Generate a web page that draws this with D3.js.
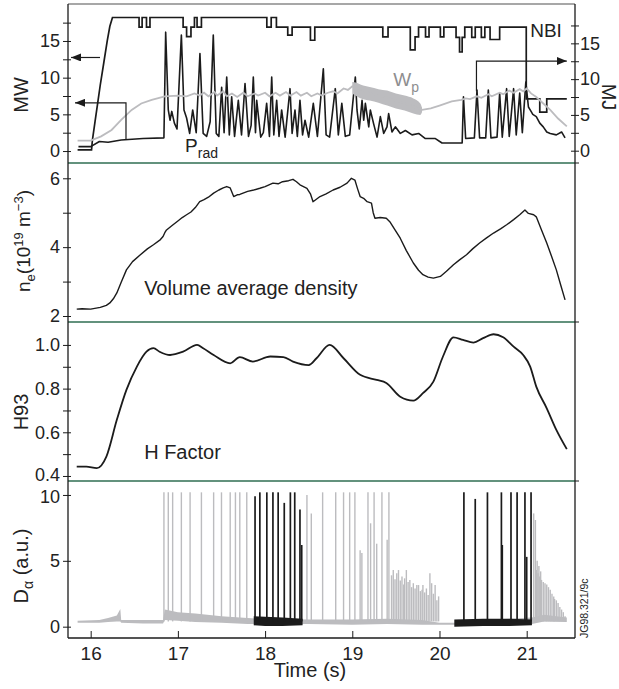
<!DOCTYPE html>
<html><head><meta charset="utf-8">
<script src="https://cdn.jsdelivr.net/npm/d3@7"></script>
<style>
body{margin:0;background:#fff}
svg{display:block}
text{font-family:"Liberation Sans",Arial,Helvetica,sans-serif;fill:#222}
</style>
</head><body>
<svg id="c" width="619" height="689"></svg>
<script>
// ---------------- DATA ----------------
const timeTicks = [16, 17, 18, 19, 20, 21];
const mwTicks = [0, 5, 10, 15], mwMinor = [2.5, 7.5, 12.5, 17.5];
const mjTicks = [0, 5, 10, 15], mjMinor = [2.5, 7.5, 12.5, 17.5];
const neTicks = [2, 4, 6], neMinor = [3, 5];
const hTicks = [0.4, 0.6, 0.8, 1.0], hMinor = [0.5, 0.7, 0.9];
const daTicks = [0, 5, 10];

// NBI power (MW), steps given as point pairs
const nbi = [[15.85,0.15],[16.01,0.15],[16.02,1.5],[16.05,4],[16.08,6.5],[16.11,9],[16.15,12],[16.19,15],[16.22,17],[16.25,18.2],
 [16.555,18.2],[16.555,16.9],[16.59,16.9],[16.59,18.2],[16.64,18.2],[16.64,16.9],[16.68,16.9],[16.68,18.2],
 [17.06,18.2],[17.06,16.9],[17.10,16.9],[17.10,15.6],[17.15,15.6],[17.15,16.9],[17.19,16.9],[17.19,18.2],[17.22,18.2],[17.22,16.9],[17.27,16.9],[17.27,18.2],
 [18.02,18.2],[18.02,16.9],[18.07,16.9],[18.07,18.2],[18.13,18.2],[18.13,16.9],[18.26,16.9],[18.26,15.8],[18.31,15.8],[18.31,16.9],
 [18.52,16.9],[18.52,15.1],[18.57,15.1],[18.57,16.9],
 [19.35,16.9],[19.35,15.55],[19.41,15.55],[19.41,16.9],
 [19.665,16.9],[19.665,13.8],[19.72,13.8],[19.72,15.55],[19.76,15.55],[19.76,16.9],
 [19.84,16.9],[19.84,15.55],[19.88,15.55],[19.88,16.9],
 [20.01,16.9],[20.01,15.55],[20.05,15.55],[20.05,16.9],
 [20.19,16.9],[20.19,15.5],[20.23,15.5],[20.23,13.5],[20.26,13.5],[20.26,15.5],[20.29,15.5],[20.29,16.9],
 [20.37,16.9],[20.37,15.5],[20.41,15.5],[20.41,16.9],[20.48,16.9],[20.48,15.5],[20.52,15.5],[20.52,16.9],
 [20.58,16.9],[20.58,15.2],[20.69,15.2],[20.69,16.9],[20.995,16.9],[20.995,7.1],[21.15,7.1],[21.15,5.3],[21.23,5.3],[21.23,7.1],[21.46,7.1]];

// Radiated power P_rad (MW)
const prad = [[15.86,0.6],[16.0,0.6],[16.10,1.3],[16.20,1.2],[16.35,1.5],[16.60,1.7],[16.84,1.8],
 [16.86,16.2],[16.89,5.6],[16.91,4.2],[16.93,5.4],[16.96,3.8],[16.99,3.0],[17.04,15.8],[17.07,5.6],[17.10,4.5],[17.135,2.4],[17.17,5.6],[17.21,2.5],
 [17.253,13.3],[17.29,2.4],[17.33,2.0],[17.37,4.0],[17.406,15.8],[17.44,2.4],[17.47,2.0],[17.502,8.7],[17.53,2.5],[17.56,10.1],[17.59,2.2],
 [17.617,7.4],[17.65,2.0],[17.693,6.9],[17.73,2.2],[17.77,9.2],[17.81,2.0],[17.84,3.5],[17.865,10.1],[17.89,2.5],[17.904,6.9],[17.95,1.9],
 [17.98,2.5],[18.018,6.5],[18.05,2.0],[18.076,10.1],[18.10,2.2],[18.133,6.9],[18.16,2.0],[18.19,5.6],[18.23,1.9],[18.286,8.5],[18.31,2.4],
 [18.343,5.6],[18.37,2.0],[18.40,6.9],[18.43,2.2],[18.458,4.2],[18.50,1.9],[18.553,6.5],[18.60,2.0],[18.668,11.2],[18.70,2.2],[18.74,1.9],
 [18.805,8.5],[18.84,2.2],[18.88,6.5],[18.92,2.0],[18.97,2.2],[19.035,10.1],[19.054,5.6],[19.08,3.0],[19.112,6.9],[19.131,4.2],[19.15,6.5],
 [19.189,3.3],[19.207,5.6],[19.245,3.7],[19.284,1.9],[19.322,4.7],[19.36,2.4],[19.398,3.3],[19.417,5.1],[19.455,2.6],[19.494,3.3],
 [19.551,2.4],[19.609,2.8],[19.685,2.2],[19.761,2.4],[19.838,1.7],[19.953,1.7],[20.029,1.1],[20.144,1.1],[20.26,1.1],
 [20.275,7.4],[20.30,1.7],[20.40,1.8],[20.43,8.3],[20.46,1.8],[20.53,1.8],[20.56,8.3],[20.59,1.8],[20.66,1.9],[20.69,7.9],[20.72,1.9],
 [20.77,8.5],[20.80,2.0],[20.85,8.5],[20.88,2.2],[20.92,7.9],[20.95,2.5],[20.99,9.4],[21.02,6.0],[21.04,5.6],[21.07,5.0],[21.11,4.7],
 [21.15,3.8],[21.19,3.3],[21.23,2.6],[21.27,2.4],[21.34,2.2],[21.40,2.6],[21.44,1.8]];

// Stored energy W_p (MJ)
const wp = [[15.85,1.4],[16.0,1.4],[16.12,2.0],[16.24,2.9],[16.35,4.3],[16.47,5.7],[16.58,6.6],[16.70,7.1],[16.85,7.6],[17.0,7.7],[17.1,7.6],[17.19,8.0],
 [17.25,7.7],[17.3,8.1],[17.35,7.6],[17.42,8.2],[17.45,7.7],[17.52,8.3],[17.56,7.6],[17.62,8.0],[17.68,7.5],[17.75,8.1],[17.8,7.6],[17.88,8.0],
 [17.92,7.7],[18.0,8.1],[18.05,7.6],[18.12,8.1],[18.17,7.7],[18.24,8.2],[18.29,7.7],[18.36,8.2],[18.41,7.7],[18.48,8.1],[18.53,7.6],[18.6,8.0],
 [18.65,7.7],[18.72,8.1],[18.78,8.3],[18.83,8.0],[18.9,8.7],[18.95,8.5],[19.0,9.0],[19.2,8.0],[19.4,7.4],[19.6,6.6],[19.8,5.7],[19.9,5.9],
 [20.0,6.3],[20.14,6.9],[20.25,7.1],[20.3,7.3],[20.35,7.2],[20.43,7.6],[20.48,7.4],[20.56,7.9],[20.6,7.6],[20.69,8.1],[20.73,7.9],[20.8,8.4],
 [20.85,8.1],[20.92,8.6],[20.96,8.3],[21.0,8.7],[21.05,8.0],[21.11,7.5],[21.19,6.6],[21.27,5.7],[21.36,4.5],[21.46,3.4]];
// noisy W_p band 19.0-19.8 s: [t, low, high] (MJ)
const wpBand = [[19.0,8.0,9.6],[19.05,7.6,9.5],[19.1,7.3,9.2],[19.2,7.0,8.9],[19.3,6.7,8.6],[19.4,6.3,8.4],[19.5,5.9,8.0],[19.6,5.6,7.7],[19.7,5.2,7.3],[19.78,5.0,6.6],[19.8,5.4,6.0]];

// Volume average density (1e19 m^-3)
const ne = [[15.84,2.20],[15.9,2.21],[16.0,2.20],[16.11,2.25],[16.18,2.31],[16.22,2.38],[16.26,2.5],[16.30,2.67],[16.35,2.98],[16.41,3.34],
 [16.48,3.58],[16.57,3.78],[16.65,3.95],[16.72,4.07],[16.8,4.22],[16.83,4.31],[16.85,4.42],[16.87,4.50],[16.93,4.62],[17.0,4.76],[17.05,4.86],
 [17.10,4.94],[17.15,5.02],[17.2,5.15],[17.25,5.32],[17.3,5.38],[17.35,5.45],[17.41,5.57],[17.47,5.66],[17.52,5.72],[17.56,5.76],[17.6,5.72],
 [17.64,5.47],[17.68,5.52],[17.71,5.53],[17.8,5.62],[17.87,5.66],[17.94,5.71],[18.0,5.76],[18.09,5.86],[18.15,5.84],[18.2,5.9],[18.27,5.93],
 [18.32,5.97],[18.36,5.90],[18.40,5.81],[18.44,5.76],[18.48,5.71],[18.52,5.55],[18.55,5.32],[18.63,5.47],[18.7,5.55],[18.78,5.66],[18.86,5.74],
 [18.94,5.86],[18.99,6.0],[19.03,5.95],[19.06,5.7],[19.09,5.47],[19.13,5.42],[19.17,5.32],[19.22,5.28],[19.24,5.0],[19.26,4.84],[19.32,4.86],
 [19.39,4.84],[19.43,4.74],[19.49,4.5],[19.55,4.26],[19.62,3.9],[19.70,3.54],[19.76,3.33],[19.81,3.20],[19.87,3.13],[19.93,3.10],[20.01,3.15],
 [20.08,3.3],[20.16,3.49],[20.23,3.63],[20.31,3.78],[20.38,3.95],[20.46,4.12],[20.54,4.27],[20.62,4.41],[20.70,4.53],[20.77,4.65],[20.85,4.8],
 [20.92,4.94],[20.98,5.08],[21.02,4.98],[21.08,4.94],[21.11,4.88],[21.17,4.5],[21.23,4.12],[21.29,3.7],[21.34,3.34],[21.39,2.9],[21.44,2.47]];

// H93 confinement factor
const h93 = [[15.84,0.443],[15.95,0.443],[16.07,0.436],[16.18,0.489],[16.30,0.657],[16.41,0.794],[16.53,0.901],[16.64,0.969],[16.72,0.985],
 [16.79,0.969],[16.91,0.954],[17.06,0.969],[17.22,1.0],[17.29,0.985],[17.41,0.954],[17.60,0.916],[17.71,0.944],[17.86,0.924],[18.06,0.947],
 [18.21,0.944],[18.32,0.924],[18.50,0.908],[18.59,0.939],[18.74,1.0],[18.90,0.939],[19.09,0.863],[19.28,0.840],[19.39,0.826],[19.55,0.763],
 [19.70,0.745],[19.81,0.779],[19.93,0.832],[20.04,0.947],[20.16,1.035],[20.27,1.023],[20.39,1.011],[20.50,1.031],[20.62,1.049],[20.73,1.035],
 [20.85,0.992],[20.96,0.954],[21.04,0.901],[21.11,0.809],[21.23,0.710],[21.34,0.611],[21.46,0.523]];

// D-alpha: baseline bands [t, low, high] and ELM spikes [t, peak]
const daGrayBase = [[15.85,0.3,0.45],[16.1,0.3,0.5],[16.2,0.35,0.65],[16.3,0.4,0.85],[16.34,0.4,1.35],[16.35,0.3,0.5],[16.6,0.25,0.5],
 [16.83,0.25,0.5],[16.85,0.5,1.3],[17.0,0.45,1.1],[17.2,0.35,1.0],[17.5,0.3,0.8],[17.8,0.2,0.65],[18.0,0.2,0.6],[18.5,0.2,0.55],
 [19.0,0.15,0.55],[19.4,0.2,0.6],[19.8,0.15,0.5],[20.0,0.15,0.3],[20.17,0.15,0.3],[20.5,0.1,0.5],[21.06,0.2,0.7],[21.2,0.4,0.9],[21.46,0.35,0.7]];
const daBlackBase1 = [[17.87,0.1,0.8],[18.0,0.05,0.75],[18.2,0.05,0.7],[18.43,0.1,0.6]];
const daBlackBase2 = [[20.17,0.0,0.55],[20.5,0.05,0.6],[20.8,0.05,0.6],[21.06,0.1,0.55]];
const daGraySpikes = [[16.84,10.2],[16.89,10.2],[16.94,10.2],[17.04,10.2],[17.14,10.2],[17.27,10.2],[17.41,10.2],[17.50,10.2],[17.60,10.2],
 [17.66,10.2],[17.71,10.2],[17.79,10.2],[18.48,10.0],[18.53,8.6],[18.66,10.2],[18.81,10.2],[18.90,10.2],[18.97,10.2],[19.03,10.2],
 [19.09,5.8],[19.11,5.6],[19.18,10.2],[19.21,7.85],[19.25,10.2],[19.28,6.3],[19.34,10.2],[19.40,6.6],[19.42,10.2],
 [19.45,3.9],[19.47,4.3],[19.49,3.6],[19.51,4.05],[19.53,4.3],[19.55,3.5],[19.57,3.8],[19.59,3.2],[19.60,3.67],[19.62,4.3],[19.64,3.4],
 [19.66,3.55],[19.68,3.0],[19.70,3.3],[19.72,2.9],[19.74,3.16],[19.76,3.16],[19.78,2.7],[19.80,2.8],[19.81,3.16],[19.83,2.6],[19.85,2.9],
 [19.87,2.4],[19.89,4.05],[19.91,3.3],[19.93,2.5],[19.95,3.16],[19.97,2.0],[19.99,2.3],
 [21.08,8.6],[21.10,8.1],[21.11,4.3],[21.12,5.0],[21.13,4.05],[21.14,4.6],[21.15,3.8],[21.16,4.2],[21.17,3.55],[21.19,3.4],[21.21,3.3],
 [21.23,3.2],[21.25,3.0],[21.27,2.8],[21.29,2.5],[21.31,2.3],[21.32,2.1],[21.34,2.0],[21.36,1.8],[21.38,1.5],[21.40,1.3],[21.42,1.1],[21.44,0.8]];
const daBlackSpikes = [[17.885,9.9],[17.94,10.2],[18.02,10.2],[18.09,10.2],[18.15,10.2],[18.22,9.4],[18.29,10.2],[18.34,10.2],[18.40,8.9],[18.42,6.2],
 [20.28,10.2],[20.41,9.7],[20.55,10.2],[20.71,10.2],[20.72,6.2],[20.82,10.2],[20.89,10.2],[20.98,10.2],[21.00,5.3],[21.05,10.2]];

// annotation arrows (data units)
const nbiArrow = [[16.107,12.75],[15.775,12.75]];           // MW
const pradArrow = [[16.405,1.5],[16.405,6.57],[15.82,6.57]]; // MW
const wpArrow = [[20.424,8.3],[20.424,12.53],[21.46,12.53]]; // MJ

// ---------------- CHART ----------------
const svg = d3.select('#c');
const L = 68, R = 575;
const x = d3.scaleLinear().domain([15.74, 21.554]).range([L, R]);
const yMW = d3.scaleLinear().domain([-1.63, 20.04]).range([163, 4]);
const yMJ = d3.scaleLinear().domain([-1.72, 20.5]).range([163, 4]);
const yNe = d3.scaleLinear().domain([1.826, 6.444]).range([322, 163]);
const yH = d3.scaleLinear().domain([0.377, 1.105]).range([481, 322]);
const yD = d3.scaleLinear().domain([-0.86, 11.06]).range([638, 481]);

const BLACK = '#1b1b1b', GRAY = '#bcbcbf', GREEN = '#2f6e52';

const defs = svg.append('defs');
[[4,163],[163,322],[322,481],[481,638]].forEach((p,i)=>{
  defs.append('clipPath').attr('id','clip'+i).append('rect')
    .attr('x',L).attr('y',p[0]).attr('width',R-L).attr('height',p[1]-p[0]);
});
defs.append('marker').attr('id','arr').attr('viewBox','0 0 10 8').attr('refX',10).attr('refY',4)
  .attr('markerWidth',10).attr('markerHeight',8).attr('markerUnits','userSpaceOnUse').attr('orient','auto')
  .append('path').attr('d','M0,0L10,4L0,8Z').attr('fill',BLACK);

const line = (ys) => d3.line().x(d=>x(d[0])).y(d=>ys(d[1]));
const band = (ys) => d3.area().x(d=>x(d[0])).y0(d=>ys(d[1])).y1(d=>ys(d[2]));

// ---- panel 1 ----
const p1 = svg.append('g').attr('clip-path','url(#clip0)');
p1.append('path').datum(nbi).attr('d',line(yMW)).attr('fill','none').attr('stroke',BLACK).attr('stroke-width',1.7);
p1.append('path').datum(prad).attr('d',line(yMW)).attr('fill','none').attr('stroke',BLACK).attr('stroke-width',1.6).attr('stroke-linejoin','round');
p1.append('path').datum(wpBand).attr('d',band(yMJ).curve(d3.curveMonotoneX)).attr('fill',GRAY);
p1.append('path').datum(wp).attr('d',line(yMJ)).attr('fill','none').attr('stroke',GRAY).attr('stroke-width',1.8);
p1.append('path').datum(nbiArrow).attr('d',line(yMW)).attr('fill','none').attr('stroke',BLACK).attr('stroke-width',1.2).attr('marker-end','url(#arr)');
p1.append('path').datum(pradArrow).attr('d',line(yMW)).attr('fill','none').attr('stroke',BLACK).attr('stroke-width',1.2).attr('marker-end','url(#arr)');
p1.append('path').datum(wpArrow).attr('d',line(yMJ)).attr('fill','none').attr('stroke',BLACK).attr('stroke-width',1.2).attr('marker-end','url(#arr)');

// labels panel 1
svg.append('text').attr('x',x(21.04)).attr('y',yMW(15.5)).attr('font-size',19).text('NBI');
const wpT = svg.append('text').attr('x',x(19.47)).attr('y',yMJ(9.0)).attr('font-size',19).style('fill','#8e8e90');
wpT.append('tspan').text('W');
wpT.append('tspan').attr('dy',6).attr('font-size',14).text('p');
const prT = svg.append('text').attr('x',x(17.083)).attr('y',yMW(-0.14)).attr('font-size',19);
prT.append('tspan').text('P');
prT.append('tspan').attr('dy',6).attr('font-size',14).text('rad');

// ---- panel 2 ----
const p2 = svg.append('g').attr('clip-path','url(#clip1)');
p2.append('path').datum(ne).attr('d',line(yNe)).attr('fill','none').attr('stroke',BLACK).attr('stroke-width',1.4).attr('stroke-linejoin','round');
svg.append('text').attr('x',x(16.613)).attr('y',yNe(2.61)).attr('font-size',20).text('Volume average density');

// ---- panel 3 ----
const p3 = svg.append('g').attr('clip-path','url(#clip2)');
p3.append('path').datum(h93).attr('d',d3.line().x(d=>x(d[0])).y(d=>yH(d[1])).curve(d3.curveMonotoneX))
  .attr('fill','none').attr('stroke',BLACK).attr('stroke-width',1.8);
svg.append('text').attr('x',x(16.613)).attr('y',yH(0.476)).attr('font-size',20).text('H Factor');

// ---- panel 4 ----
const p4 = svg.append('g').attr('clip-path','url(#clip3)');
p4.append('path').datum(daGrayBase).attr('d',band(yD)).attr('fill',GRAY);
p4.selectAll('line.gs').data(daGraySpikes).join('line').attr('class','gs')
  .attr('x1',d=>x(d[0])).attr('x2',d=>x(d[0])).attr('y1',yD(0.4)).attr('y2',d=>yD(d[1]))
  .attr('stroke',GRAY).attr('stroke-width',1.4);
[daBlackBase1, daBlackBase2].forEach(b=>{
  p4.append('path').datum(b).attr('d',band(yD)).attr('fill',BLACK);
});
p4.selectAll('line.bs').data(daBlackSpikes).join('line').attr('class','bs')
  .attr('x1',d=>x(d[0])).attr('x2',d=>x(d[0])).attr('y1',yD(0.4)).attr('y2',d=>yD(d[1]))
  .attr('stroke',BLACK).attr('stroke-width',1.7);

// ---------------- AXES & FRAME ----------------
function styleAxis(g, fs){
  g.select('.domain').remove();
  g.attr('font-family',null).attr('font-size',null);
  g.selectAll('.tick line').attr('stroke',BLACK);
  g.selectAll('.tick text').attr('font-size',fs).style('fill','#222');
}
function leftAxis(scale, major, minor, fmt, shift){
  const g = svg.append('g').attr('transform',`translate(${L},0)`)
    .call(d3.axisLeft(scale).tickValues(major).tickSize(5).tickPadding(3).tickFormat(fmt));
  styleAxis(g, 18); g.selectAll('.tick line').attr('x1',3);
  if (shift) g.selectAll('.tick text').attr('y', d => shift[d] || 0);
  if (minor) {
    const m = svg.append('g').attr('transform',`translate(${L},0)`)
      .call(d3.axisLeft(scale).tickValues(minor).tickSize(5).tickFormat(''));
    styleAxis(m, 18); m.selectAll('.tick line').attr('x1',3);
  }
}
leftAxis(yMW, mwTicks, mwMinor, d3.format('d'));
leftAxis(yNe, neTicks, neMinor, d3.format('d'));
leftAxis(yH, hTicks, hMinor, d3.format('.1f'), {0.4: -1.5});
leftAxis(yD, daTicks, null, d3.format('d'), {10: 1.5});

// right MJ axis
const ra = svg.append('g').attr('transform',`translate(${R},0)`)
  .call(d3.axisRight(yMJ).tickValues(mjTicks).tickSize(4).tickPadding(1).tickFormat(d3.format('d')));
styleAxis(ra, 18); ra.selectAll('.tick line').attr('x1',-4);
const ram = svg.append('g').attr('transform',`translate(${R},0)`)
  .call(d3.axisRight(yMJ).tickValues(mjMinor).tickSize(4).tickFormat(''));
styleAxis(ram, 18); ram.selectAll('.tick line').attr('x1',-4);

// bottom time axis
const bx = svg.append('g').attr('transform','translate(0,638)')
  .call(d3.axisBottom(x).tickValues(timeTicks).tickSize(-7).tickPadding(9).tickFormat(d3.format('d')));
styleAxis(bx, 19);

// frame
svg.append('line').attr('x1',L).attr('x2',R).attr('y1',4).attr('y2',4).attr('stroke','#8a8a8a').attr('stroke-width',1.3);
[163,322,481].forEach(yy=>{
  svg.append('line').attr('x1',L).attr('x2',R).attr('y1',yy).attr('y2',yy).attr('stroke',GREEN).attr('stroke-width',1.6);
  svg.append('line').attr('x1',R).attr('x2',R+4).attr('y1',yy).attr('y2',yy).attr('stroke',BLACK).attr('stroke-width',1);
});
svg.append('line').attr('x1',L).attr('x2',L).attr('y1',4).attr('y2',638).attr('stroke',BLACK).attr('stroke-width',1.3);
svg.append('line').attr('x1',R).attr('x2',R).attr('y1',4).attr('y2',638).attr('stroke',BLACK).attr('stroke-width',1.3);
svg.append('line').attr('x1',L).attr('x2',R).attr('y1',638).attr('y2',638).attr('stroke',BLACK).attr('stroke-width',1.3);

// axis titles
function vTitle(xp, yp, rot){ return svg.append('text').attr('transform',`translate(${xp},${yp}) rotate(${rot})`).attr('text-anchor','middle'); }
vTitle(28, 95, -90).attr('font-size',20).text('MW');
vTitle(602, 97, 90).attr('font-size',20).text('MJ');
const neT = vTitle(30, 241, -90).attr('font-size',19);
neT.append('tspan').text('n');
neT.append('tspan').attr('dy',5).attr('font-size',13).text('e');
neT.append('tspan').attr('dy',-5).text('(10');
neT.append('tspan').attr('dy',-7).attr('font-size',13).text('19');
neT.append('tspan').attr('dy',7).text(' m');
neT.append('tspan').attr('dy',-7).attr('font-size',13).text('\u22123');
neT.append('tspan').attr('dy',7).text(')');
vTitle(28, 412, -90).attr('font-size',20).text('H93');
const daT = vTitle(28, 566, -90).attr('font-size',20);
daT.append('tspan').text('D');
daT.append('tspan').attr('dy',5).attr('font-size',14).text('\u03b1');
daT.append('tspan').attr('dy',-5).text(' (a.u.)');

svg.append('text').attr('x',310).attr('y',677).attr('text-anchor','middle').attr('font-size',20).text('Time (s)');
svg.append('text').attr('transform','translate(588,638) rotate(-90)').attr('font-size',10.5).text('JG98.321/9c');
</script>
</body></html>
